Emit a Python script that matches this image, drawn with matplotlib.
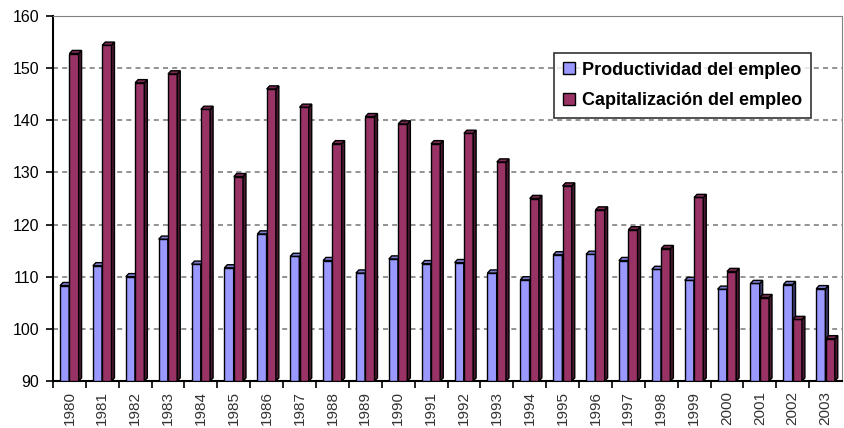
import numpy as np
import matplotlib.pyplot as plt
from matplotlib.patches import Polygon

plt.rcParams['font.family'] = ['Liberation Sans', 'DejaVu Sans']

# datos
years = [str(y) for y in range(1980, 2004)]
productividad = [108.3, 112.1, 110.0, 117.2, 112.4, 111.7, 118.2, 113.9, 113.1, 110.7,
                 113.4, 112.5, 112.7, 110.7, 109.4, 114.2, 114.3, 113.1, 111.4, 109.3,
                 107.6, 108.7, 108.5, 107.7]
capitalizacion = [152.8, 154.4, 147.2, 148.9, 142.1, 129.2, 146.0, 142.5, 135.5, 140.7,
                  139.3, 135.5, 137.5, 132.0, 125.0, 127.4, 122.8, 119.0, 115.4, 125.2,
                  111.0, 106.0, 101.8, 98.1]
yticks = [90, 100, 110, 120, 130, 140, 150, 160]

fig = plt.figure(figsize=(8.45, 4.28), dpi=100)
ax = fig.add_axes([0.0627, 0.1098, 0.9338, 0.8528])

x = np.arange(len(years))
w = 0.28
dx, dy = 0.09, 0.6   # profundidad del efecto 3D


def bars3d(xs, vals, color, side, top, label):
    rects = ax.bar(xs, np.array(vals) - 90, w, bottom=90, color=color,
                   edgecolor='black', linewidth=1.0, label=label, zorder=3)
    for r in rects:
        x0, x1 = r.get_x(), r.get_x() + r.get_width()
        y0, y1 = r.get_y(), r.get_y() + r.get_height()
        ax.add_patch(Polygon([(x1, y0), (x1 + dx, y0 + dy), (x1 + dx, y1 + dy), (x1, y1)],
                             closed=True, facecolor=side, edgecolor='black',
                             linewidth=1.0, zorder=3, clip_on=False))
        ax.add_patch(Polygon([(x0, y1), (x0 + dx, y1 + dy), (x1 + dx, y1 + dy), (x1, y1)],
                             closed=True, facecolor=top, edgecolor='black',
                             linewidth=1.0, zorder=3, clip_on=False))


bars3d(x - 0.145, productividad, '#9999FF', '#3D3D73', '#7A7ACC', 'Productividad del empleo')
bars3d(x + 0.14, capitalizacion, '#993366', '#4C1933', '#7A2952', 'Capitalización del empleo')

ax.set_xlim(-0.5, len(years) - 0.5)
ax.set_ylim(90, 160)
ax.set_yticks(yticks)
ax.set_yticklabels([str(v) for v in yticks], fontsize=11.5)
ax.set_xticks(x - 0.5, minor=False)
ax.set_xticklabels([])
ax.set_xticks(x, minor=True)
ax.set_xticklabels(years, minor=True, rotation=90, fontsize=11, color='#333333')
ax.tick_params(axis='x', which='major', direction='out', length=5, width=1.2)
ax.tick_params(axis='x', which='minor', length=0, pad=7)
ax.tick_params(axis='y', direction='out', length=5, width=1.2, pad=5)

ax.yaxis.grid(True, linestyle=(0, (3, 2.5)), color='#808080', linewidth=1.2, zorder=0)
ax.set_axisbelow(True)

ax.spines['left'].set_linewidth(1.5)
ax.spines['bottom'].set_linewidth(1.5)
ax.spines['top'].set_color('#808080')
ax.spines['right'].set_color('#808080')

leg = ax.legend(loc='upper right', bbox_to_anchor=(0.961, 0.90),
                prop={'weight': 'bold', 'size': 13}, frameon=True, fancybox=False,
                edgecolor='black', handlelength=0.65, handleheight=0.65,
                handletextpad=0.4, borderpad=0.5, borderaxespad=0, labelspacing=0.75)
leg.get_frame().set_linewidth(1.2)
leg.set_zorder(5)

fig.savefig('out.png', dpi=100)
